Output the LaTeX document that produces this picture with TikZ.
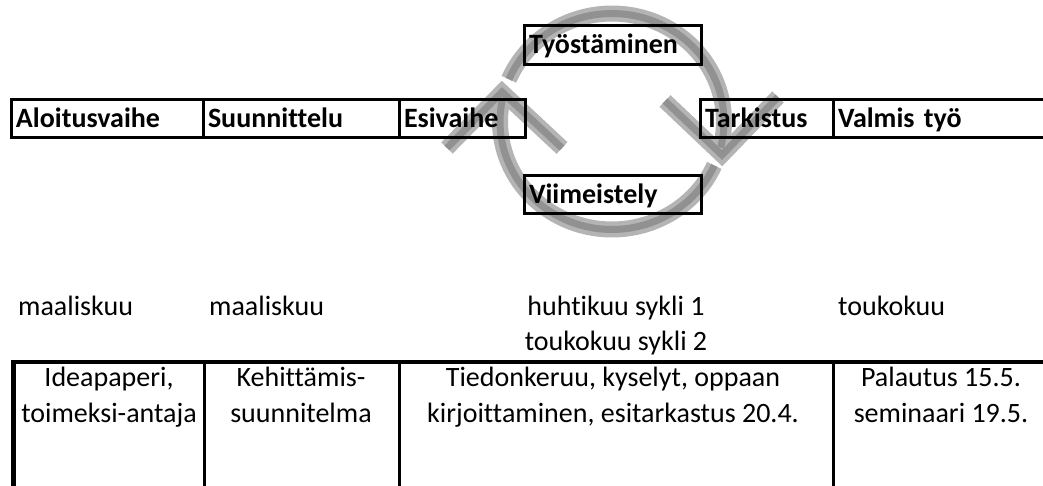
\documentclass[tikz,border=0pt]{standalone}
\usepackage{fontspec}
\setmainfont{Carlito}[Ligatures=NoCommon]
\definecolor{bandlight}{RGB}{180,180,180}
\definecolor{banddark}{RGB}{145,145,145}
\tikzset{
  phase/.style={draw=black, line width=3pt, outer sep=0pt, anchor=north west,
    inner xsep=5pt, inner ysep=0pt, align=left,
    font=\fontsize{28}{32}\selectfont\bfseries, text height=20pt, text depth=3pt},
  month/.style={anchor=base west, inner sep=0pt, font=\fontsize{28}{32}\selectfont},
  celltext/.style={anchor=north, inner sep=0pt, align=center, font=\fontsize{28}{36}\selectfont},
  bandouter/.style={line width=16pt, draw=bandlight, line join=miter},
  bandinner/.style={line width=7pt, draw=banddark, line join=miter},
}
\begin{document}
\begin{tikzpicture}[x=1pt, y=-1pt]
\useasboundingbox (0,0) rectangle (1043,486);
\clip (0,0) rectangle (1043,486);
% gray circular arrows: light outer band
\draw[bandouter] plot[domain=-14:157, samples=60] ({612+112*cos(\x)},{121.5-108*sin(\x)});
\draw[bandouter] plot[domain=-192:-24, samples=60] ({612+112*cos(\x)},{121.5-108*sin(\x)});
\draw[bandouter] (665,101) -- (722,155) -- (778,97);
\draw[bandouter] (447,148) -- (502,92) -- (562,148);
% darker inner stripe
\draw[bandinner] plot[domain=-14:157, samples=60] ({612+112*cos(\x)},{121.5-108*sin(\x)});
\draw[bandinner] plot[domain=-192:-24, samples=60] ({612+112*cos(\x)},{121.5-108*sin(\x)});
\draw[bandinner] (665,101) -- (722,155) -- (778,97);
\draw[bandinner] (447,148) -- (502,92) -- (562,148);
% phase boxes
\node[phase, text width=182pt, minimum height=38pt] (aloitus) at (11,100) {Aloitusvaihe};
\node[phase, text width=186pt, minimum height=38pt] (suunn) at (203,100) {Suunnittelu};
\node[phase, text width=116pt, minimum height=38pt] (esiv) at (399,100) {Esivaihe};
\node[phase, text width=167pt, minimum height=39pt] (tyost) at (524,26) {Työstäminen};
\node[phase, text width=167pt, minimum height=38pt] (viim) at (524,176) {Viimeistely};
\node[phase, text width=123pt, minimum height=38pt] (tark) at (700,100) {Tarkistus};
\node[phase, text width=230pt, minimum height=38pt] (valmis) at (833,100) {Valmis työ};
% months
\node[month] (m1) at (18,315) {maaliskuu};
\node[month] (m2) at (209,315) {maaliskuu};
\node[month, anchor=base] (m3) at (616,315) {huhtikuu sykli 1};
\node[month, anchor=base] (m4) at (616,350) {toukokuu sykli 2};
\node[month] (m5) at (838,315) {toukokuu};
% table
\draw[line width=4pt] (11,362) -- (1043,362);
\draw[line width=5pt] (13,360) -- (13,490);
\draw[line width=3pt] (204,362) -- (204,490);
\draw[line width=3pt] (399,362) -- (399,490);
\draw[line width=3pt] (833,362) -- (833,490);
\draw[line width=3pt] (11,487.5) -- (1043,487.5);
\node[celltext] (c1) at (109,360.8) {\strut Ideapaperi,\\toimeksi-antaja};
\node[celltext] (c2) at (301,360.8) {\strut Kehittämis-\\suunnitelma};
\node[celltext] (c3) at (613,360.8) {\strut Tiedonkeruu, kyselyt, oppaan\\kirjoittaminen, esitarkastus 20.4.};
\node[celltext] (c4) at (941,360.8) {\strut Palautus 15.5.\\seminaari 19.5.};
\end{tikzpicture}
\end{document}
